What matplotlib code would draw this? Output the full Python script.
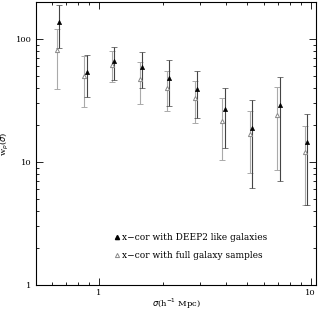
import numpy as np
import matplotlib.pyplot as plt
from matplotlib.lines import Line2D
from matplotlib.ticker import FuncFormatter, NullFormatter

# DEEP2-like galaxies (filled)
x_deep = np.array([0.65, 0.878, 1.18, 1.6, 2.15, 2.91, 3.93, 5.29, 7.14, 9.6])
w_deep = np.array([138, 54, 66, 59, 48, 39, 27, 19, 28.9, 14.6])
hi_deep = np.array([190, 74, 85.7, 78, 67, 55, 40, 32, 49, 24.5])
lo_deep = np.array([85, 34, 46.4, 40, 28.7, 22.8, 13, 6.1, 7.0, 4.47])

# full galaxy samples (open)
x_full = np.array([0.634, 0.852, 1.155, 1.56, 2.11, 2.84, 3.83, 5.17, 6.97, 9.4])
w_full = np.array([81.5, 50, 62, 47.5, 40, 33, 21.7, 17, 24, 12])
hi_full = np.array([121, 72.8, 79.4, 65, 54.6, 45.6, 33, 26, 41, 19.6])
lo_full = np.array([39, 27.9, 44.5, 29.8, 25.8, 20.7, 10.4, 8.1, 8.55, 4.5])

fig = plt.figure(figsize=(3.24, 3.11), dpi=100)
ax = fig.add_axes([0.111, 0.0836, 0.864, 0.91])

ax.errorbar(x_full, w_full, yerr=[w_full - lo_full, hi_full - w_full],
            fmt='^', mfc='white', mec='#888888', ms=3, mew=0.7,
            ecolor='#aaaaaa', elinewidth=0.8, capsize=2.5, capthick=0.8)
ax.errorbar(x_deep, w_deep, yerr=[w_deep - lo_deep, hi_deep - w_deep],
            fmt='^', mfc='black', mec='black', ms=3, mew=0.5,
            ecolor='#444444', elinewidth=0.8, capsize=2.5, capthick=0.8)

ax.set_xscale('log')
ax.set_yscale('log')
ax.set_xlim(0.505, 10.6)
ax.set_ylim(1, 200)

fmt = FuncFormatter(lambda v, p: '%g' % v)
ax.xaxis.set_major_formatter(fmt)
ax.yaxis.set_major_formatter(fmt)
ax.xaxis.set_minor_formatter(NullFormatter())
ax.yaxis.set_minor_formatter(NullFormatter())
ax.tick_params(which='both', direction='in', top=True, right=True,
               labelsize=6, width=0.6)
ax.tick_params(which='major', length=5)
ax.tick_params(which='minor', length=2.5)
ax.tick_params(axis='x', pad=3)
ax.tick_params(axis='y', pad=3)
for lab in ax.get_xticklabels() + ax.get_yticklabels():
    lab.set_family('DejaVu Serif')
for s in ax.spines.values():
    s.set_linewidth(0.8)

ax.set_xlabel(r'$\sigma$(h$^{-1}$ Mpc)', fontsize=6, family='DejaVu Serif')
ax.set_ylabel(r'w$_p$($\sigma$)', fontsize=6, family='DejaVu Serif')
ax.xaxis.set_label_coords(0.5, -0.04)
ax.yaxis.set_label_coords(-0.09, 0.5)

handles = [Line2D([], [], ls='none', marker='^', ms=3, mfc='black', mec='black'),
           Line2D([], [], ls='none', marker='^', ms=3, mfc='white', mec='#888888', mew=0.7)]
labels = ['x\u2212cor with DEEP2 like galaxies', 'x\u2212cor with full galaxy samples']
ax.legend(handles, labels, loc='lower left', bbox_to_anchor=(0.25, 0.06),
          frameon=False, handlelength=0.6, handletextpad=0.3,
          labelspacing=1.0, prop={'family': 'DejaVu Serif', 'size': 6.5})

fig.savefig('out.png', dpi=100)
